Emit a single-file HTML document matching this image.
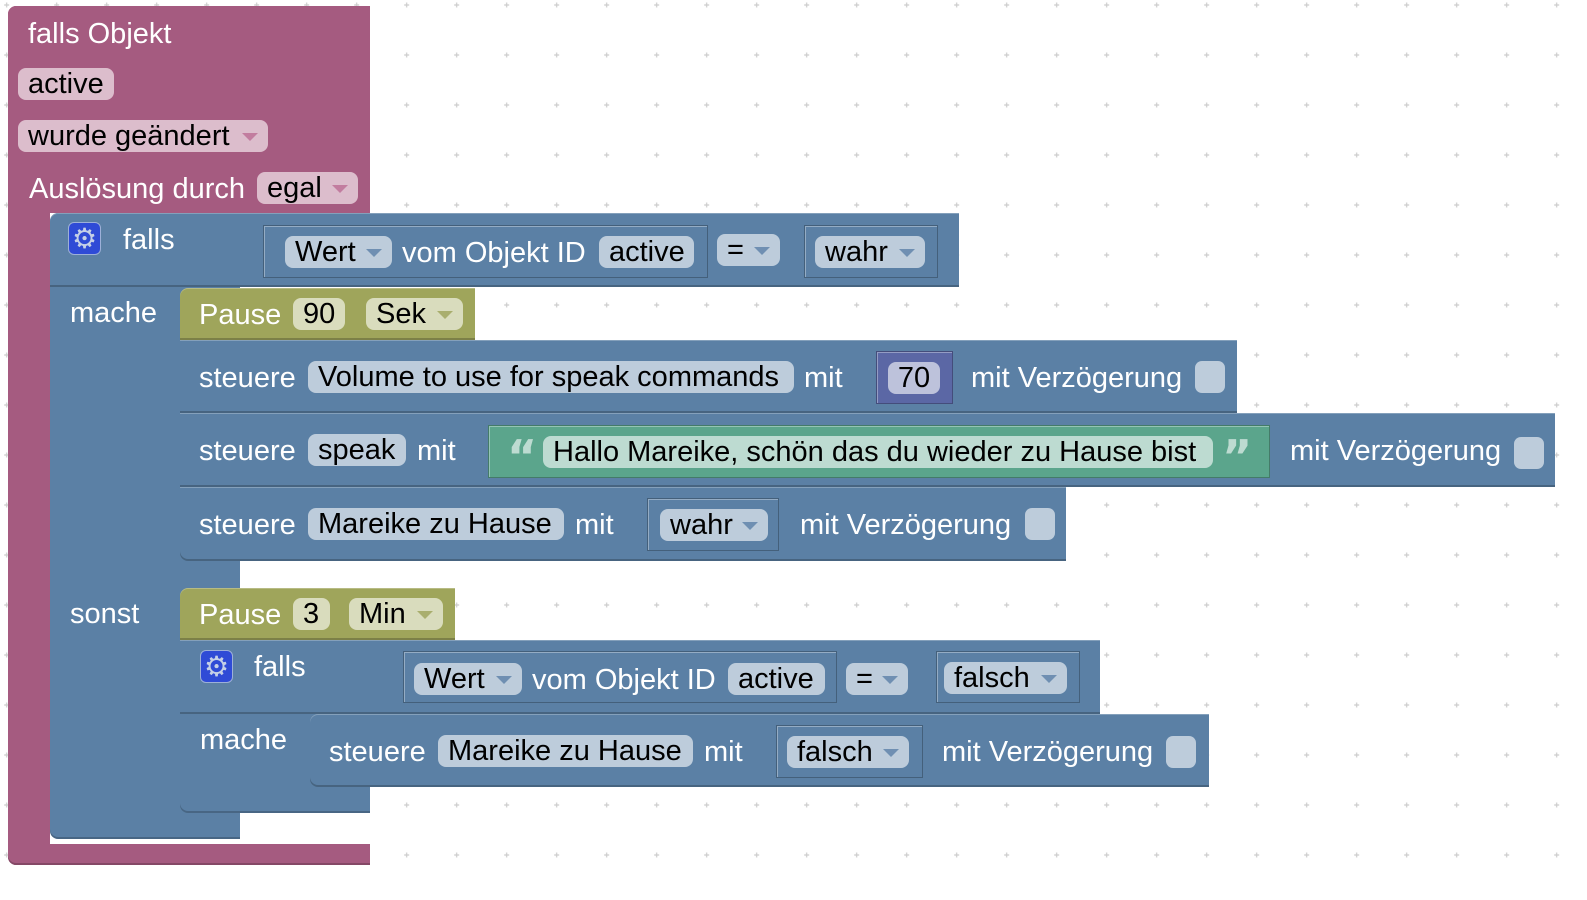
<!DOCTYPE html>
<html><head><meta charset="utf-8"><style>
body{margin:0;width:1587px;height:900px;overflow:hidden;background:#fff;position:relative;font-family:"Liberation Sans",Arial,sans-serif}
.b{position:absolute;box-sizing:border-box}
.pk{background:#a55b80}.bl{background:#5b80a5}.ol{background:#9fa55b}.gr{background:#5ba58c}.pu{background:#5b67a5}
.row{box-shadow:inset 0 -2px 0 rgba(0,0,0,.22),inset 0 1px 0 rgba(255,255,255,.25)}
.val{border:1px solid rgba(0,0,0,.25);box-shadow:inset 1px 1px 0 rgba(255,255,255,.35)}
.t{position:absolute;color:#fff;font-size:29px;line-height:32px;height:32px;white-space:nowrap;margin-top:1px}
.f{position:absolute;height:32px;border-radius:8px;color:#000;font-size:29px;line-height:33px;padding-left:10px;box-sizing:border-box;white-space:nowrap;background:#bdccdb}
.f.p{background:#dcbdcc}.f.o{background:#d9dcbd}.f.g{background:#bddbd1}.f.u{background:#bdc2db;padding-left:0;text-align:center}
.dd::after{content:"";position:absolute;right:10px;top:13px;border-left:8px solid transparent;border-right:8px solid transparent;border-top:8px solid #6f8fb2}
.p.dd::after{border-top-color:#c27d9f}.o.dd::after{border-top-color:#a9ae6e}
.cb{position:absolute;width:30px;height:32px;border-radius:7px;background:#bdccdb}
.gear{position:absolute;width:33px;height:33px;border-radius:6px;background:#2f4bd6;border:1px solid #9db0d8;box-sizing:border-box;color:#c5d0e6;font:bold 28px "DejaVu Sans",sans-serif;text-align:center;line-height:31px}
.q{position:absolute;color:#bddbd1;font:bold 46px "DejaVu Sans",sans-serif;line-height:50px}
</style></head><body>
<svg class="b" style="left:0;top:0" width="1587" height="900">
<defs><pattern id="g" x="6.7" y="5" width="50" height="50" patternUnits="userSpaceOnUse">
<path d="M-2.5 0H2.5M0 -2.5V2.5" stroke="#ccc" stroke-width="1.2"/>
<path d="M47.5 0H52.5M50 -2.5V2.5M-2.5 50H2.5M0 47.5V52.5M47.5 50H52.5M50 47.5V52.5" stroke="#ccc" stroke-width="1.2"/></pattern></defs>
<rect width="1587" height="900" fill="url(#g)"/></svg>

<div class="b pk" style="left:8px;top:6px;width:362px;height:207px;border-top-left-radius:8px"></div>
<div class="b pk" style="left:8px;top:6px;width:42px;height:859px;border-radius:8px 0 0 8px"></div>
<div class="b pk" style="left:8px;top:844px;width:362px;height:21px;border-bottom-left-radius:8px;box-shadow:inset 0 -2px 0 rgba(0,0,0,.2)"></div>
<div class="t" style="left:28px;top:17px">falls Objekt</div>
<div class="f p" style="left:18px;top:68px;width:96px">active</div>
<div class="f p dd" style="left:18px;top:120px;width:250px">wurde geändert</div>
<div class="t" style="left:29px;top:172px">Auslösung durch</div>
<div class="f p dd" style="left:257px;top:172px;width:101px">egal</div>

<div class="b bl" style="left:50px;top:213px;width:190px;height:626px;border-radius:8px 0 0 8px;box-shadow:inset 0 -2px 0 rgba(0,0,0,.2)"></div>
<div class="b bl row" style="left:50px;top:213px;width:909px;height:74px;border-top-left-radius:8px"></div>
<div class="gear" style="left:68px;top:222px">⚙</div>
<div class="t" style="left:123px;top:223px">falls</div>
<div class="b bl val" style="left:263px;top:225px;width:445px;height:53px"></div>
<div class="f dd" style="left:285px;top:236px;width:107px">Wert</div>
<div class="t" style="left:402px;top:236px">vom Objekt ID</div>
<div class="f" style="left:599px;top:236px;width:95px">active</div>
<div class="f dd" style="left:717px;top:234px;width:63px">=</div>
<div class="b bl val" style="left:804px;top:225px;width:134px;height:53px"></div>
<div class="f dd" style="left:815px;top:236px;width:110px">wahr</div>
<div class="t" style="left:70px;top:296px">mache</div>
<div class="t" style="left:70px;top:597px">sonst</div>

<div class="b ol row" style="left:180px;top:288px;width:295px;height:52px;border-top-left-radius:8px"></div>
<div class="t" style="left:199px;top:298px">Pause</div>
<div class="f o" style="left:293px;top:298px;width:52px">90</div>
<div class="f o dd" style="left:366px;top:298px;width:97px">Sek</div>

<div class="b bl row" style="left:180px;top:340px;width:1057px;height:73px"></div>
<div class="t" style="left:199px;top:361px">steuere</div>
<div class="f" style="left:308px;top:361px;width:486px">Volume to use for speak commands</div>
<div class="t" style="left:804px;top:361px">mit</div>
<div class="b pu val" style="left:876px;top:351px;width:77px;height:53px"></div>
<div class="f u" style="left:888px;top:362px;width:52px">70</div>
<div class="t" style="left:971px;top:361px">mit Verzögerung</div>
<div class="cb" style="left:1195px;top:361px"></div>

<div class="b bl row" style="left:180px;top:413px;width:1375px;height:74px"></div>
<div class="t" style="left:199px;top:434px">steuere</div>
<div class="f" style="left:308px;top:434px;width:98px">speak</div>
<div class="t" style="left:417px;top:434px">mit</div>
<div class="b gr val" style="left:488px;top:425px;width:782px;height:53px"></div>
<div class="q" style="left:507px;top:432px">“</div>
<div class="f g" style="left:543px;top:436px;width:670px">Hallo Mareike, schön das du wieder zu Hause bist</div>
<div class="q" style="left:1222px;top:432px">”</div>
<div class="t" style="left:1290px;top:434px">mit Verzögerung</div>
<div class="cb" style="left:1514px;top:437px"></div>

<div class="b bl row" style="left:180px;top:487px;width:886px;height:74px;border-bottom-left-radius:8px"></div>
<div class="t" style="left:199px;top:508px">steuere</div>
<div class="f" style="left:308px;top:508px;width:256px">Mareike zu Hause</div>
<div class="t" style="left:575px;top:508px">mit</div>
<div class="b bl val" style="left:647px;top:498px;width:132px;height:53px"></div>
<div class="f dd" style="left:660px;top:509px;width:108px">wahr</div>
<div class="t" style="left:800px;top:508px">mit Verzögerung</div>
<div class="cb" style="left:1025px;top:508px"></div>

<div class="b ol row" style="left:180px;top:588px;width:275px;height:52px;border-top-left-radius:8px"></div>
<div class="t" style="left:199px;top:598px">Pause</div>
<div class="f o" style="left:293px;top:598px;width:37px">3</div>
<div class="f o dd" style="left:349px;top:598px;width:94px">Min</div>

<div class="b bl" style="left:180px;top:640px;width:190px;height:173px;border-bottom-left-radius:8px;box-shadow:inset 0 -2px 0 rgba(0,0,0,.2)"></div>
<div class="b bl row" style="left:180px;top:640px;width:920px;height:74px"></div>
<div class="gear" style="left:200px;top:650px">⚙</div>
<div class="t" style="left:254px;top:650px">falls</div>
<div class="b bl val" style="left:403px;top:651px;width:434px;height:52px"></div>
<div class="f dd" style="left:414px;top:663px;width:108px">Wert</div>
<div class="t" style="left:532px;top:663px">vom Objekt ID</div>
<div class="f" style="left:728px;top:663px;width:97px">active</div>
<div class="f dd" style="left:846px;top:663px;width:62px">=</div>
<div class="b bl val" style="left:936px;top:651px;width:144px;height:52px"></div>
<div class="f dd" style="left:944px;top:662px;width:123px">falsch</div>
<div class="t" style="left:200px;top:723px">mache</div>
<div class="b bl row" style="left:310px;top:714px;width:899px;height:73px;border-radius:8px 0 0 8px"></div>
<div class="t" style="left:329px;top:735px">steuere</div>
<div class="f" style="left:438px;top:735px;width:255px">Mareike zu Hause</div>
<div class="t" style="left:704px;top:735px">mit</div>
<div class="b bl val" style="left:776px;top:725px;width:147px;height:53px"></div>
<div class="f dd" style="left:787px;top:736px;width:122px">falsch</div>
<div class="t" style="left:942px;top:735px">mit Verzögerung</div>
<div class="cb" style="left:1166px;top:736px"></div>
</body></html>
